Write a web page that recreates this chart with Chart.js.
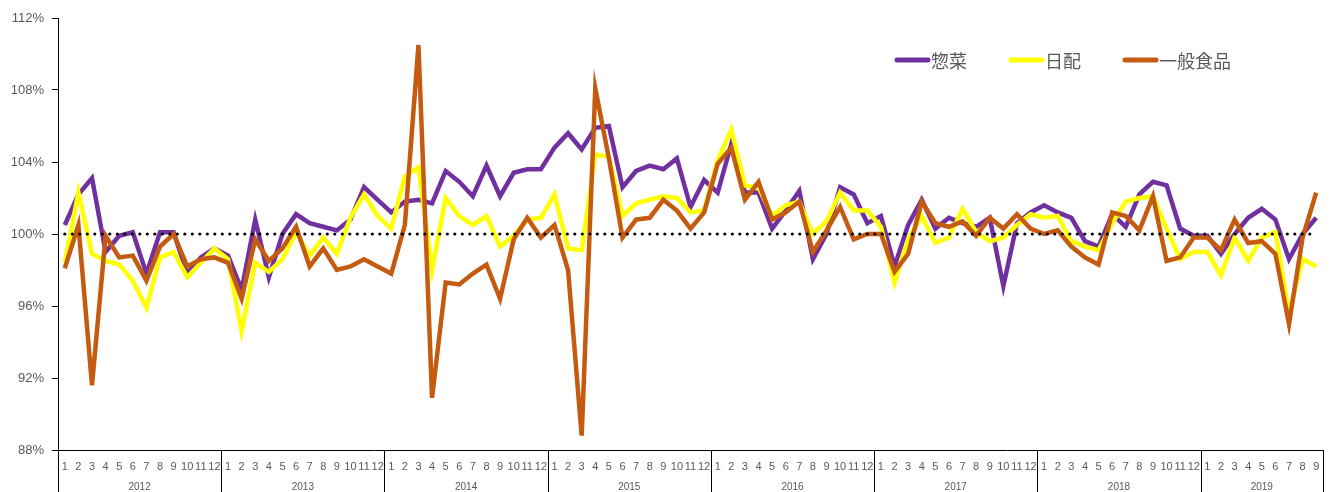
<!DOCTYPE html>
<html>
<head>
<meta charset="utf-8">
<script src="https://cdn.jsdelivr.net/npm/chart.js@4/dist/chart.umd.min.js"></script>
<style>
  body { margin: 0; background: #fff; }
  #wrap { width: 1331px; height: 492px; }
</style>
</head>
<body>
<div id="wrap"><canvas id="grafico"></canvas></div>
<script>
// 年と各年の月数 (2019年は9月まで)
const years = ['2012', '2013', '2014', '2015', '2016', '2017', '2018', '2019'];
const monthsPerYear = [12, 12, 12, 12, 12, 12, 12, 9];
const monthNames = ['1', '2', '3', '4', '5', '6', '7', '8', '9', '10', '11', '12'];

const seriesNames = ['惣菜', '日配', '一般食品'];

const sozai = [
    100.5, 102.2, 103.1, 99.0, 99.9, 100.1, 97.8, 100.1, 100.1, 97.8, 98.7, 99.2,
    98.8, 96.9, 100.8, 97.6, 100.0, 101.1, 100.6, 100.4, 100.2, 100.8, 102.6, 101.9,
    101.2, 101.8, 101.9, 101.7, 103.5, 102.9, 102.1, 103.8, 102.1, 103.4, 103.6, 103.6,
    104.8, 105.6, 104.7, 105.9, 106.0, 102.6, 103.5, 103.8, 103.6, 104.2, 101.5, 103.0,
    102.3, 105.0, 102.3, 102.3, 100.3, 101.3, 102.4, 98.6, 100.0, 102.6, 102.2, 100.6,
    101.0, 98.2, 100.5, 101.9, 100.3, 100.9, 100.6, 100.4, 100.9, 97.1, 100.6, 101.2,
    101.6, 101.2, 100.9, 99.6, 99.3, 101.1, 100.4, 102.2, 102.9, 102.7, 100.3, 99.9,
    99.9, 98.9, 100.0, 100.9, 101.4, 100.8, 98.6, 100.0, 100.9
];

const nippai = [
    98.4, 102.3, 98.9, 98.5, 98.3, 97.4, 95.9, 98.7, 99.0, 97.6, 98.4, 99.2,
    98.6, 94.6, 98.4, 97.9, 98.6, 100.1, 98.8, 99.8, 98.9, 100.9, 102.2, 101.0,
    100.3, 103.2, 103.7, 98.0, 102.0, 101.0, 100.5, 101.0, 99.3, 99.9, 100.8, 100.9,
    102.2, 99.2, 99.1, 104.4, 104.3, 101.0, 101.7, 101.9, 102.1, 102.0, 101.2, 101.3,
    104.1, 105.8, 102.7, 102.6, 101.0, 101.6, 101.8, 100.0, 100.7, 102.3, 101.3, 101.3,
    100.4, 97.3, 99.7, 101.0, 99.5, 99.8, 101.4, 100.1, 99.6, 99.8, 100.5, 101.1,
    100.9, 101.0, 99.6, 99.3, 99.1, 100.6, 101.8, 102.0, 102.1, 100.3, 98.6, 99.0,
    99.0, 97.7, 99.8, 98.5, 99.8, 100.1, 95.6, 98.6, 98.2
];

const ippanShokuhin = [
    98.1, 100.5, 91.6, 99.9, 98.7, 98.8, 97.4, 99.3, 100.0, 98.2, 98.6, 98.7,
    98.4, 96.4, 99.7, 98.5, 99.2, 100.4, 98.2, 99.2, 98.0, 98.2, 98.6, 98.2,
    97.8, 100.5, 110.5, 90.9, 97.3, 97.2, 97.8, 98.3, 96.4, 99.7, 100.9, 99.8,
    100.5, 98.0, 88.8, 108.1, 104.2, 99.8, 100.8, 100.9, 101.9, 101.3, 100.3, 101.2,
    103.9, 104.8, 101.9, 102.9, 100.8, 101.2, 101.8, 99.0, 100.2, 101.5, 99.7, 100.0,
    100.0, 97.9, 98.9, 101.8, 100.6, 100.4, 100.7, 99.9, 100.9, 100.3, 101.1, 100.3,
    100.0, 100.2, 99.3, 98.7, 98.3, 101.2, 101.0, 100.2, 102.1, 98.5, 98.7, 99.8,
    99.8, 99.1, 100.8, 99.5, 99.6, 98.9, 95.0, 99.8, 102.3
];

const yMin = 88, yMax = 112, yStep = 4;
const baseValue = 100;

document.addEventListener('DOMContentLoaded', () => {
    const labels = [];
    years.forEach((y, k) => {
        monthNames.slice(0, monthsPerYear[k]).forEach(m => labels.push(m));
    });

    const cores = ['#7030A0', '#FFFF00', '#C55A11'];
    const textColor = '#595959';

    // 100%の点線
    const baseLinePlugin = {
        id: 'baseLine',
        afterDatasetsDraw(chart) {
            const { ctx, scales } = chart;
            const y = scales.y.getPixelForValue(baseValue);
            const x0 = scales.x.getPixelForValue(0);
            const x1 = scales.x.getPixelForValue(labels.length - 1);
            ctx.save();
            ctx.strokeStyle = '#000';
            ctx.lineWidth = 3.2;
            ctx.lineCap = 'round';
            ctx.setLineDash([0, 7.5]);
            ctx.beginPath();
            ctx.moveTo(x0, y);
            ctx.lineTo(x1, y);
            ctx.stroke();
            ctx.restore();
        }
    };

    // 年の区切りと年ラベル
    const yearPlugin = {
        id: 'yearGroups',
        afterDraw(chart) {
            const { ctx, scales, chartArea } = chart;
            const x = scales.x;
            const w = (x.right - x.left) / labels.length;
            const top = chartArea.bottom;
            const bottom = chart.height;
            ctx.save();
            ctx.strokeStyle = '#000';
            ctx.lineWidth = 1;
            ctx.fillStyle = textColor;
            ctx.font = '10px "Liberation Sans", Arial, sans-serif';
            ctx.textAlign = 'center';
            ctx.textBaseline = 'middle';
            let start = 0;
            years.forEach((yr, k) => {
                const n = monthsPerYear[k];
                const left = x.getPixelForValue(start) - w / 2;
                const right = x.getPixelForValue(start + n - 1) + w / 2;
                [left, right].forEach(px => {
                    const p = Math.round(px) + 0.5;
                    ctx.beginPath();
                    ctx.moveTo(p, top);
                    ctx.lineTo(p, bottom);
                    ctx.stroke();
                });
                ctx.fillText(yr, (left + right) / 2, 487);
                start += n;
            });
            ctx.restore();
        }
    };

    // 凡例
    const legendPlugin = {
        id: 'customLegend',
        afterDraw(chart) {
            const { ctx } = chart;
            const order = [0, 1, 2];
            let x = 895;
            const y = 60;
            ctx.save();
            ctx.font = '18px "Noto Sans CJK JP", sans-serif';
            ctx.textBaseline = 'middle';
            order.forEach(i => {
                ctx.strokeStyle = cores[i];
                ctx.lineWidth = 5;
                ctx.lineCap = 'round';
                ctx.beginPath();
                ctx.moveTo(x + 2, y);
                ctx.lineTo(x + 33, y);
                ctx.stroke();
                ctx.fillStyle = textColor;
                ctx.fillText(seriesNames[i], x + 36, y + 1);
                x += 36 + ctx.measureText(seriesNames[i]).width + 42;
            });
            ctx.restore();
        }
    };

    const valores = [sozai, nippai, ippanShokuhin];
    const datasets = valores.map((d, i) => ({
        label: seriesNames[i],
        data: d,
        borderColor: cores[i],
        backgroundColor: cores[i],
        borderWidth: 4.5,
        pointRadius: 0,
        tension: 0,
        fill: false,
        order: 3 - i
    }));

    const ctx = document.getElementById('grafico').getContext('2d');
    new Chart(ctx, {
        type: 'line',
        data: { labels, datasets },
        options: {
            responsive: true,
            maintainAspectRatio: false,
            animation: false,
            layout: { padding: { top: 18, right: 8, bottom: 0, left: 0 } },
            plugins: {
                legend: { display: false },
                tooltip: { enabled: false }
            },
            scales: {
                x: {
                    type: 'category',
                    offset: true,
                    grid: { display: false, drawTicks: false },
                    border: { display: true, color: '#000', width: 1 },
                    ticks: {
                        autoSkip: false,
                        maxRotation: 0,
                        padding: 10,
                        color: textColor,
                        font: { size: 11, family: '"Liberation Sans", Arial, sans-serif' }
                    },
                    afterFit: s => { s.height = 42; }
                },
                y: {
                    min: yMin,
                    max: yMax,
                    grid: { drawOnChartArea: false, drawTicks: true, tickLength: 6, color: '#000' },
                    border: { display: true, color: '#000', width: 1 },
                    ticks: {
                        stepSize: yStep,
                        padding: 8,
                        color: textColor,
                        font: { size: 13, family: '"Liberation Sans", Arial, sans-serif' },
                        callback: v => v + '%'
                    },
                    afterFit: s => { s.width = 58; }
                }
            }
        },
        plugins: [baseLinePlugin, yearPlugin, legendPlugin]
    });
});
</script>
</body>
</html>
